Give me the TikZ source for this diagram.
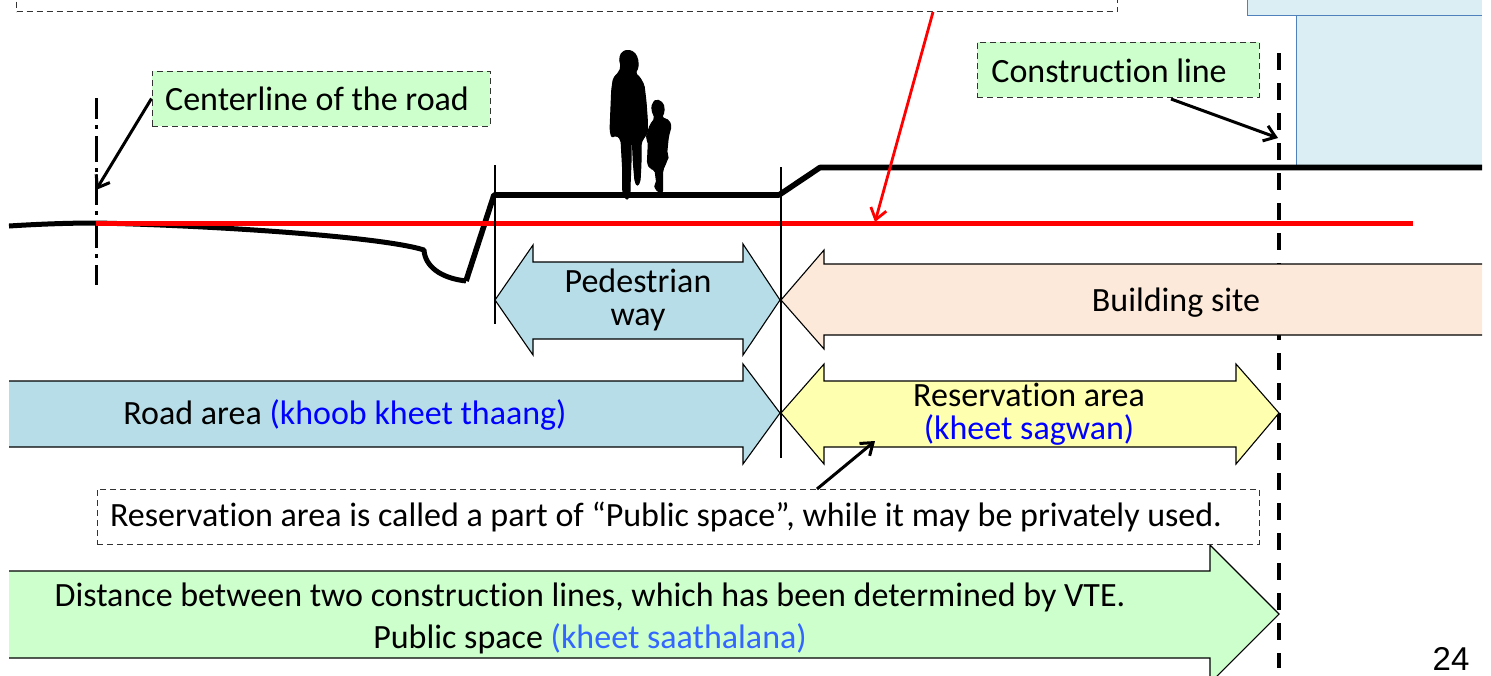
\documentclass[tikz,border=0pt]{standalone}
\usepackage{fontspec}
\setmainfont[Ligatures=CommonOff]{Carlito}
\newfontfamily\numfont{Liberation Sans}
\usetikzlibrary{arrows.meta}
\definecolor{paleblue}{HTML}{B7DEE8}
\definecolor{bldg}{HTML}{DAEEF3}
\definecolor{bldgline}{HTML}{4F81BD}
\definecolor{peach}{HTML}{FDE9D9}
\definecolor{paleyellow}{HTML}{FFFFB0}
\definecolor{palegreen}{HTML}{CCFFCC}
\definecolor{lightblue}{HTML}{3366FF}
\definecolor{dashgrey}{HTML}{333333}
\tikzset{
  x=0.5pt,y=-0.5pt,
  block/.style={draw=black,line width=0.55pt,line join=miter},
  note/.style={draw=dashgrey,dashed,dash pattern=on 3pt off 2pt,line width=0.5pt,inner sep=0pt,text=black},
  lab/.style={inner sep=0pt,align=center,text=black,font=\fontsize{17}{16.5}\selectfont},
  ground/.style={line width=2.8pt,line join=round},
  thinline/.style={line width=0.6pt},
  callout/.style={line width=1.5pt,-{Straight Barb[length=5.5pt,width=8pt,line width=1.5pt]}},
  redcall/.style={draw=red,line width=1.4pt,-{Straight Barb[length=5.5pt,width=8pt,line width=1.4pt]}},
  silh/.style={fill=black,draw=black,line width=0.5pt,rounded corners=1pt},
}
\begin{document}
\begin{tikzpicture}
\path[use as bounding box] (0,0) rectangle (1491,675);
\clip (0,0) rectangle (1491,675);
% building
\fill[bldg] (1296,15) rectangle (1482,166);
\draw[bldgline,line width=0.5pt] (1482,166) -- (1296,166) -- (1296,15);
\fill[bldg] (1247,-5) rectangle (1482,15);
\draw[bldgline,line width=0.5pt] (1247,-5) -- (1247,15) -- (1482,15);
% top note box
\node[note,fill=white,minimum width=550.5pt,minimum height=12pt,anchor=south west] (topbox) at (16,12) {};
% construction line
\coordinate (consttop) at (1279,53);
\coordinate (constbot) at (1279,668);
\draw[line width=2pt,dash pattern=on 8.5pt off 6.5pt] (consttop) -- (constbot);
% centerline
\coordinate (cltop) at (96,98);
\coordinate (clbot) at (96,285);
\draw[line width=1.5pt,dash pattern=on 13pt off 3pt on 2pt off 3.5pt,dash phase=2.5pt] (cltop) -- (clbot);
% ground
\draw[ground,line width=2.5pt] (9,226) .. controls (40,224) and (70,223) .. (96,223)
  .. controls (200,225) and (380,236) .. (424,250)
  .. controls (425,266) and (440,278) .. (466,281);
\draw[ground] (466,281) -- (494,195) -- (779,195) -- (820,167.5) -- (1482,167.5);
% people
\begin{scope}[shift={(560,30)},x=0.1667pt,y=-0.1667pt]
\path[silh] (203,60) -- (222,66) -- (233,85) -- (235,112) -- (225,130) -- (238,140) -- (252,165) -- (258,215) -- (262,270) -- (262,310) -- (250,325) -- (243,340) -- (243,400) -- (240,455) -- (232,468) -- (225,455) -- (220,400) -- (217,335) -- (213,340) -- (213,400) -- (210,470) -- (210,490) -- (207,507) -- (195,507) -- (188,485) -- (188,420) -- (183,330) -- (170,315) -- (155,322) -- (150,300) -- (155,180) -- (160,145) -- (178,125) -- (183,110) -- (178,85) -- (186,66) -- cycle;
\path[silh] (290,208) -- (310,220) -- (313,245) -- (305,262) -- (328,272) -- (333,290) -- (325,320) -- (320,370) -- (325,380) -- (315,405) -- (308,420) -- (308,487) -- (295,487) -- (282,468) -- (290,460) -- (285,420) -- (270,415) -- (262,400) -- (265,335) -- (258,325) -- (270,285) -- (285,265) -- (275,240) -- (277,220) -- cycle;
\end{scope}
% red datum line
\coordinate (redL) at (96,223);
\coordinate (redR) at (1413,223);
\coordinate (redtip) at (875,222);
\coordinate (redstart) at (933,12);
\draw[red,line width=2.5pt] (redL) -- (redR);
\draw[redcall] (redstart) -- (redtip);
% vertical ticks
\coordinate (v1t) at (495,165); \coordinate (v1b) at (495,324);
\coordinate (v2t) at (781,167); \coordinate (v2b) at (781,458);
% block arrows
\draw[block,fill=paleblue] (495,300) -- (533,245) -- (533,262) -- (743,262) -- (743,244) -- (780,300) -- (743,355) -- (743,339) -- (533,339) -- (533,355) -- cycle;
\fill[peach] (781,300) -- (824,250) -- (824,264) -- (1482,264) -- (1482,335) -- (824,335) -- (824,349) -- cycle;
\draw[block] (1482,264) -- (824,264) -- (824,250) -- (781,300) -- (824,349) -- (824,335) -- (1482,335);
\fill[paleblue] (9,381) -- (743,381) -- (743,364) -- (780,413) -- (743,464) -- (743,447) -- (9,447) -- cycle;
\draw[block] (9,381) -- (743,381) -- (743,364) -- (780,413) -- (743,464) -- (743,447) -- (9,447);
\draw[block,fill=paleyellow] (781,413) -- (824,364) -- (824,381) -- (1236,381) -- (1236,364) -- (1279,413) -- (1236,464) -- (1236,447) -- (824,447) -- (824,464) -- cycle;
\fill[palegreen] (9,571) -- (1210,571) -- (1210,545) -- (1279,614) -- (1210,683) -- (1210,658) -- (9,658) -- cycle;
\draw[block] (9,571) -- (1210,571) -- (1210,545) -- (1279,614) -- (1210,683) -- (1210,658) -- (9,658);
\draw[thinline] (v1t) -- (v1b);
\draw[thinline] (v2t) -- (v2b);
% labels
\node[lab] (ped) at (638,300) {Pedestrian\\way};
\node[lab] (site) at (1176,303) {Building site};
\node[lab] (road) at (345,415) {Road area {\color{blue}(khoob kheet thaang)}};
\node[lab] (resv) at (1029,414) {Reservation area\\{\color{blue}(kheet sagwan)}};
\node[lab] (dist) at (590,618.5) {Distance between two construction lines, which has been determined by VTE.\\[4.6pt]Public space {\color{lightblue}(kheet saathalana)}};
% notes
\node[note,fill=palegreen,minimum width=169pt,minimum height=27.5pt,font=\fontsize{17}{16.5}\selectfont] (clnote) at (321,98.5) {\hspace*{-4pt}Centerline of the road};
\node[note,fill=palegreen,minimum width=141pt,minimum height=27.5pt,anchor=center] (cnnote) at (1118,69.5) {};
\node[lab,anchor=west] (cntext) at (991,71) {Construction line};
\node[note,fill=white,minimum width=581pt,minimum height=27.5pt,font=\fontsize{17}{16.5}\selectfont] (rsnote) at (678,516.5) {\hspace*{-12pt}\raisebox{-0.8pt}{Reservation area is called a part of “Public space”, while it may be privately used.}};
% callouts
\coordinate (cltip) at (96,190);
\coordinate (cntip) at (1278,138);
\coordinate (cnstart) at (1171,99);
\coordinate (rsstart) at (817,489);
\coordinate (rstip) at (875,441);
\draw[callout] (clnote.west) -- (cltip);
\draw[callout] (cnstart) -- (cntip);
\draw[callout] (rsstart) -- (rstip);
\node[inner sep=0pt,font=\numfont\fontsize{16.5}{18}\selectfont] (pageno) at (1451,659) {24};
\end{tikzpicture}
\end{document}
